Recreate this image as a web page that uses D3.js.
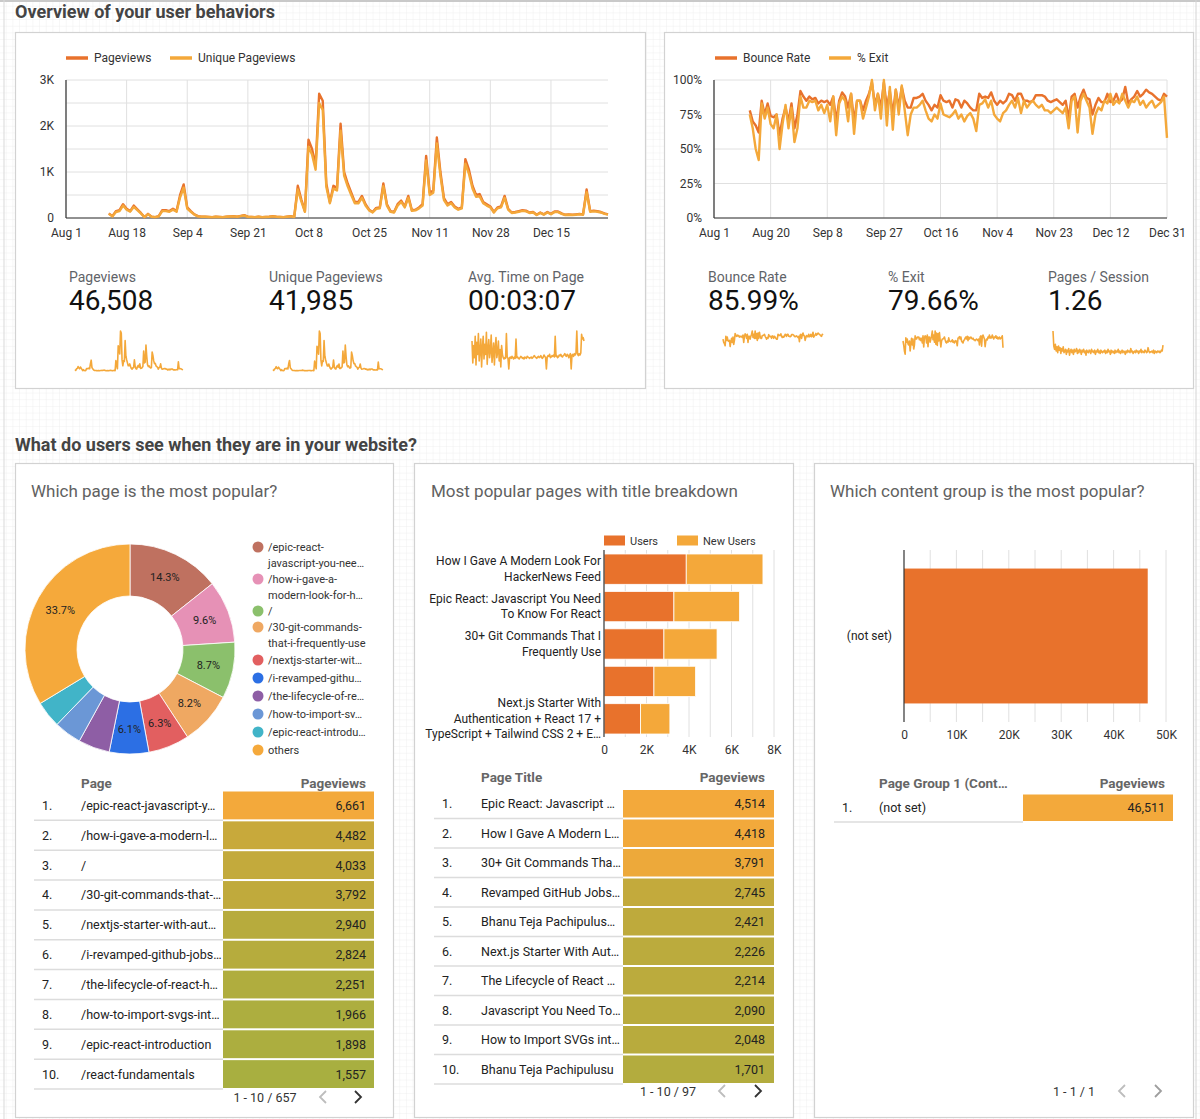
<!DOCTYPE html>
<html><head><meta charset="utf-8">
<script src="https://cdn.jsdelivr.net/npm/d3@7"></script>
<style>
html,body{margin:0;padding:0;background:#fff;}
svg{display:block;font-family:Roboto,"Noto Sans",sans-serif;}
</style></head><body>
<svg id="c" width="1200" height="1119"></svg>
<script>
// ---------------- DATA ----------------
const seriesStart = "2020-08-13";
const axisStart = "2020-08-01";
const axisEnd = "2020-12-31";

const pageviews = [100,40,150,170,300,200,150,270,190,110,20,90,30,20,40,170,170,150,200,150,500,730,230,150,80,40,
30,30,25,20,30,25,20,30,35,40,30,45,60,30,25,20,30,20,25,30,40,30,25,20,30,40,25,
700,400,150,1700,1500,1150,2700,2550,750,350,
700,650,2050,1000,750,550,350,350,480,300,
180,130,220,230,750,300,150,130,300,380,
250,480,170,180,230,300,1350,550,600,1750,
1000,430,300,350,250,200,230,1280,1050,700,
500,520,350,300,250,130,230,250,480,200,
120,130,150,170,160,120,130,70,120,80,
130,90,140,140,100,70,80,70,80,90,
80,620,150,160,150,130,100,80];

const uniquePageviews = [90,35,130,150,270,180,140,240,170,100,18,80,28,18,36,150,150,135,180,135,450,660,205,135,72,36,
27,27,22,18,27,22,18,27,32,36,27,40,54,27,22,18,27,18,22,27,36,27,22,18,27,36,22,
620,360,135,1550,1380,1050,2500,2350,680,320,
640,600,1900,920,690,500,320,320,440,270,
165,120,200,210,690,270,135,120,270,350,
230,440,155,165,210,270,1250,500,550,1620,
920,390,270,320,230,180,210,1180,960,640,
460,470,320,270,230,120,210,230,440,180,
110,120,135,155,145,110,120,65,110,72,
120,82,128,128,90,65,72,65,72,82,
72,560,135,145,135,120,90,72];

const bounceRate = [78,70,67,62,85,75,83,74,73,75,
60,72,80,70,83,65,75,92,88,85,
88,86,87,83,85,84,85,82,88,70,
85,91,88,80,90,70,85,85,78,85,
90,98,82,90,80,98,80,92,75,93,
80,95,85,80,80,87,87,88,90,85,
82,78,82,80,89,85,84,85,80,86,
85,80,85,83,80,78,78,90,87,88,
87,91,85,82,85,83,85,90,89,85,
90,90,85,85,84,85,89,89,89,88,
85,84,85,86,84,82,85,72,88,90,
80,88,93,87,86,75,82,87,84,84,
90,84,85,90,84,86,95,83,86,88,
92,88,90,93,91,90,88,86,85,90,88];

const exitRate = [75,65,50,42,83,72,80,68,65,75,
50,68,82,65,80,55,65,88,80,80,
85,84,85,78,82,76,82,70,88,60,
83,88,85,70,90,61,85,85,72,80,
88,100,78,90,72,100,67,95,64,93,
75,96,78,60,75,80,80,82,85,78,
72,70,75,72,83,75,74,73,75,78,
72,75,70,74,76,72,63,82,83,86,
80,85,75,72,70,76,78,82,85,80,
87,76,85,80,83,85,82,80,82,78,
78,76,78,80,78,76,80,65,85,88,
62,85,90,85,80,61,75,80,78,85,
83,90,82,85,83,90,85,80,85,84,
88,82,85,80,83,85,80,82,84,88,58];

const avgTimeSec = [450,120,380,200,520,90,430,250,560,150,
300,480,60,350,520,180,400,250,580,100,
330,470,200,300,540,130,260,420,90,350,
500,200,280,450,150,320,60,380,250,200,
180,200,190,560,210,190,30,200,210,190,
220,200,180,210,190,480,200,210,190,180,
200,220,210,190,200,180,210,200,190,220,
210,200,190,200,210,190,200,220,230,210,
200,190,210,220,200,210,230,200,190,210,
240,220,200,30,210,230,220,250,200,210,
230,220,240,210,520,220,230,200,210,240,
230,250,220,210,230,240,260,230,220,250,
240,200,230,260,30,240,250,220,260,240,
270,600,250,230,260,240,270,550,480,500,450];

const pagesPerSession = [2.4,1.5,1.3,1.6,1.2,1.45,1.1,1.5,1.25,1.4,1.05,1.35,1.2,1.45,1.1,
1.2,1.3,1.0,1.25,1.15,1.35,0.95,1.2,1.3,1.1,
1.25,1.0,1.3,1.15,1.2,1.35,1.05,1.25,1.1,1.3,
1.2,1.0,1.25,1.15,1.3,1.1,1.2,0.95,1.25,1.15,
1.1,1.25,1.2,1.05,1.3,1.15,1.2,1.1,1.25,1.0,
1.2,1.15,1.3,1.1,1.2,1.05,1.25,1.15,1.1,1.2,
1.15,1.25,1.05,1.2,1.1,1.3,1.15,1.2,1.0,1.25,
1.1,1.2,1.15,1.05,1.25,1.1,1.2,1.15,1.3,1.1,
1.2,1.05,1.15,1.25,1.1,1.2,1.15,1.0,1.2,1.1,
1.25,1.15,1.2,1.1,1.35,1.15,1.2,1.05,1.15,1.2,
1.1,1.25,1.15,1.2,1.05,1.2,1.15,1.3,1.1,1.2,
1.15,1.1,1.25,1.2,1.1,1.15,1.4,1.2,1.1,1.15,
1.15,1.2,1.1,1.25,1.05,1.2,1.15,1.1,1.2,1.15,
1.2,1.1,1.15,1.25,1.2,1.55];

const kpiLeftLabels = ["Pageviews","Unique Pageviews","Avg. Time on Page"];
const kpiLeftValues = ["46,508","41,985","00:03:07"];
const kpiRightLabels = ["Bounce Rate","% Exit","Pages / Session"];
const kpiRightValues = ["85.99%","79.66%","1.26"];

const pieLabels = [["/epic-react-","javascript-you-nee…"],["/how-i-gave-a-","modern-look-for-h…"],["/"],
  ["/30-git-commands-","that-i-frequently-use"],["/nextjs-starter-wit…"],["/i-revamped-githu…"],
  ["/the-lifecycle-of-re…"],["/how-to-import-sv…"],["/epic-react-introdu…"],["others"]];
const pieValues = [6661,4482,4033,3792,2940,2824,2251,1966,1898,15661];
const pieColors = ["#bf7160","#e691b6","#8bc06c","#efa862","#e25f60","#2c6fe4","#8e5ea5","#6b97d6","#41b4c8","#f5a93b"];

const titleBarCats = [["How I Gave A Modern Look For","HackerNews Feed"],["Epic React: Javascript You Need","To Know For React"],
  ["30+ Git Commands That I","Frequently Use"],[],["Next.js Starter With","Authentication + React 17 +","TypeScript + Tailwind CSS 2 + E…"]];
const titleBarUsers = [3870,3290,2820,2350,1720];
const titleBarNewUsers = [3610,3090,2500,1960,1380];
const titleBarKeys = ["Users","New Users"];
const titleBarTicks = [0,2000,4000,6000,8000];

const groupCats = ["(not set)"];
const groupPageviews = [46511];
const groupTicks = [0,10000,20000,30000,40000,50000];

const pageRows = ["/epic-react-javascript-y…","/how-i-gave-a-modern-l…","/","/30-git-commands-that-…","/nextjs-starter-with-aut…",
  "/i-revamped-github-jobs…","/the-lifecycle-of-react-h…","/how-to-import-svgs-int…","/epic-react-introduction","/react-fundamentals"];
const pageRowValues = [6661,4482,4033,3792,2940,2824,2251,1966,1898,1557];
const titleRows = ["Epic React: Javascript …","How I Gave A Modern L…","30+ Git Commands Tha…","Revamped GitHub Jobs…",
  "Bhanu Teja Pachipulus…","Next.js Starter With Aut…","The Lifecycle of React …","Javascript You Need To…","How to Import SVGs int…","Bhanu Teja Pachipulusu"];
const titleRowValues = [4514,4418,3791,2745,2421,2226,2214,2090,2048,1701];
const groupRows = ["(not set)"];
const groupRowValues = [46511];

// ---------------- DRAW ----------------
const svg = d3.select("#c");
const parse = d3.timeParse("%Y-%m-%d");
const t0 = parse(seriesStart);
const days = pageviews.map((_, i) => d3.timeDay.offset(t0, i));
const dA = parse(axisStart), dB = parse(axisEnd);
const DARK = "#e8722c", LIGHT = "#f4a83a";

// background grid
const defs = svg.append("defs");
const gs = 6.67;
const pat = defs.append("pattern").attr("id","grid").attr("width",gs).attr("height",gs).attr("patternUnits","userSpaceOnUse");
pat.append("rect").attr("width",gs).attr("height",gs).attr("fill","#fff");
pat.append("path").attr("d",`M${gs} 0V${gs}M0 ${gs}H${gs}`).attr("stroke","#ececec").attr("stroke-width",0.8).attr("fill","none");
svg.append("rect").attr("width",1200).attr("height",1119).attr("fill","url(#grid)");
svg.append("rect").attr("x",0).attr("y",0).attr("width",1200).attr("height",2).attr("fill","#c9c9c9");
svg.append("line").attr("x1",4).attr("x2",4).attr("y1",0).attr("y2",1119).attr("stroke","#d9d9d9");
svg.append("line").attr("x1",1196).attr("x2",1196).attr("y1",0).attr("y2",1119).attr("stroke","#d4d4d4");

// panels
const panels = [[15,32,630,356],[664,32,529,356],[15,463,378,654],[414,463,379,654],[814,463,379,654]];
svg.selectAll("rect.panel").data(panels).join("rect").attr("class","panel")
  .attr("x",d=>d[0]+0.5).attr("y",d=>d[1]+0.5).attr("width",d=>d[2]).attr("height",d=>d[3])
  .attr("fill","#fff").attr("stroke","#d2d2d2").attr("stroke-width",1.2);

// section titles
svg.append("text").attr("x",15).attr("y",17.5).attr("font-size",18).attr("font-weight","bold").attr("fill","#444").text("Overview of your user behaviors");
svg.append("text").attr("x",15).attr("y",451).attr("font-size",18).attr("font-weight","bold").attr("fill","#444").text("What do users see when they are in your website?");

// panel titles
[[31,"Which page is the most popular?"],[431,"Most popular pages with title breakdown"],[830,"Which content group is the most popular?"]]
 .forEach(([x,t])=>svg.append("text").attr("x",x).attr("y",497).attr("font-size",17).attr("fill","#616161").text(t));

// ---- time series charts ----
function timeChart(o){
  const g = svg.append("g");
  const x = d3.scaleTime().domain([dA,dB]).range([o.x0,o.x1]);
  const y = d3.scaleLinear().domain([0,o.yMax]).range([o.y0,o.y1]);
  g.selectAll("line.hg").data(d3.range(0,o.yMax+1e-9,o.gridStep)).join("line")
    .attr("x1",o.x0).attr("x2",o.x1).attr("y1",d=>y(d)).attr("y2",d=>y(d)).attr("stroke","#e0e0e0");
  const tickDates = d3.range(0,153,o.tickStep).map(k=>d3.timeDay.offset(dA,k));
  g.selectAll("line.vg").data(tickDates).join("line")
    .attr("x1",d=>x(d)).attr("x2",d=>x(d)).attr("y1",o.y1).attr("y2",o.y0).attr("stroke","#e0e0e0");
  const ax = g.append("g").attr("transform",`translate(0,${o.y0})`)
    .call(d3.axisBottom(x).tickValues(tickDates).tickFormat(d3.timeFormat("%b %-d")).tickSize(0).tickPadding(10));
  ax.select(".domain").remove();
  ax.selectAll("text").attr("font-size",12).attr("fill","#333").attr("font-family","Roboto");
  const ay = g.append("g").attr("transform",`translate(${o.x0},0)`)
    .call(d3.axisLeft(y).tickValues(o.yLabels).tickFormat(o.fmt).tickSize(0).tickPadding(12));
  ay.select(".domain").remove();
  ay.selectAll("text").attr("font-size",12).attr("fill","#333").attr("font-family","Roboto");
  g.append("line").attr("x1",o.x0).attr("x2",o.x0).attr("y1",o.y1).attr("y2",o.y0).attr("stroke","#333").attr("stroke-width",1.2);
  g.append("line").attr("x1",o.x0).attr("x2",o.x1).attr("y1",o.y0).attr("y2",o.y0).attr("stroke","#333").attr("stroke-width",1.2);
  o.series.forEach((s,i)=>{
    g.append("path").datum(s).attr("fill","none").attr("stroke",o.colors[i]).attr("stroke-width",2.4).attr("stroke-linejoin","round")
      .attr("d",d3.line().x((d,j)=>x(days[j])).y(d=>y(d)));
  });
  o.legend.forEach((l,i)=>{
    g.append("line").attr("x1",l[0]).attr("x2",l[0]+22).attr("y1",58).attr("y2",58).attr("stroke",o.colors[i]).attr("stroke-width",3.5);
    g.append("text").attr("x",l[0]+28).attr("y",62).attr("font-size",12).attr("fill","#333").text(l[1]);
  });
}
timeChart({x0:66,x1:608,y0:218,y1:80,yMax:3000,gridStep:500,yLabels:[0,1000,2000,3000],
  fmt:d=>d===0?"0":(d/1000)+"K",tickStep:17,series:[pageviews,uniquePageviews],colors:[DARK,LIGHT],
  legend:[[66,"Pageviews"],[170,"Unique Pageviews"]]});
timeChart({x0:714,x1:1167,y0:218,y1:80,yMax:100,gridStep:25,yLabels:[0,25,50,75,100],
  fmt:d=>d+"%",tickStep:19,series:[bounceRate,exitRate],colors:[DARK,LIGHT],
  legend:[[715,"Bounce Rate"],[829,"% Exit"]]});

// ---- KPIs ----
function kpi(x,label,value){
  svg.append("text").attr("x",x).attr("y",282).attr("font-size",14).attr("fill","#5f6368").text(label);
  svg.append("text").attr("x",x).attr("y",310).attr("font-size",28).attr("fill","#111").text(value);
}
[69,269,468].forEach((x,i)=>kpi(x,kpiLeftLabels[i],kpiLeftValues[i]));
[708,888,1048].forEach((x,i)=>kpi(x,kpiRightLabels[i],kpiRightValues[i]));
function spark(data,x0,x1){
  const x = d3.scaleTime().domain([days[0],days[days.length-1]]).range([x0,x1]);
  const y = d3.scaleLinear().domain([0,d3.max(data)]).range([371,331]);
  svg.append("path").datum(data).attr("fill","none").attr("stroke",LIGHT).attr("stroke-width",1.6).attr("stroke-linejoin","round")
    .attr("d",d3.line().x((d,j)=>x(days[j])).y(d=>y(d)));
}
spark(pageviews,75,183); spark(uniquePageviews,273,383); spark(avgTimeSec,472,584);
spark(bounceRate,723,823); spark(exitRate,903,1003); spark(pagesPerSession,1053,1163);

// ---- Donut ----
const total = d3.sum(pieValues);
const pie = d3.pie().sort(null).value(d=>d)(pieValues);
const arc = d3.arc().innerRadius(53).outerRadius(105);
const labArc = d3.arc().innerRadius(80).outerRadius(80);
const pg = svg.append("g").attr("transform","translate(130,649)");
pg.selectAll("path").data(pie).join("path").attr("d",arc).attr("fill",(d,i)=>pieColors[i]).attr("stroke","#fff").attr("stroke-width",0.8);
pg.selectAll("text").data(pie.filter(d=>d.value/total>=0.05)).join("text")
  .attr("transform",d=>`translate(${labArc.centroid(d)})`).attr("text-anchor","middle").attr("dy","0.35em")
  .attr("font-size",11).attr("fill","#222").text(d=>d3.format(".1%")(d.value/total));
const legY = [547,579,611,627,660,678,696,714,732,750];
pieLabels.forEach((lines,i)=>{
  svg.append("circle").attr("cx",258).attr("cy",legY[i]).attr("r",5.5).attr("fill",pieColors[i]);
  lines.forEach((t,k)=>svg.append("text").attr("x",268).attr("y",legY[i]+4+k*15.5).attr("font-size",11).attr("fill","#333").text(t));
});

// ---- Stacked bar (titles) ----
{
  const x = d3.scaleLinear().domain([0,8000]).range([604,774]);
  const y = d3.scaleBand().domain(d3.range(titleBarUsers.length)).range([551,737]).paddingInner(0.19).paddingOuter(0.08);
  const g = svg.append("g");
  g.selectAll("line.g").data(d3.range(1000,8001,1000)).join("line")
    .attr("x1",d=>x(d)).attr("x2",d=>x(d)).attr("y1",550).attr("y2",737).attr("stroke","#e0e0e0");
  const rows = titleBarUsers.map((u,i)=>({"Users":u,"New Users":titleBarNewUsers[i],i}));
  const st = d3.stack().keys(titleBarKeys)(rows);
  const cols = [DARK,LIGHT];
  st.forEach((s,k)=>{
    g.selectAll(null).data(s).join("rect").attr("x",d=>x(d[0])).attr("width",d=>x(d[1])-x(d[0]))
      .attr("y",d=>y(d.data.i)).attr("height",y.bandwidth()).attr("fill",cols[k]).attr("stroke","#fff").attr("stroke-width",0.8);
  });
  g.append("line").attr("x1",604).attr("x2",604).attr("y1",550).attr("y2",737).attr("stroke","#333").attr("stroke-width",1.2);
  const ax = g.append("g").attr("transform","translate(0,737)")
    .call(d3.axisBottom(x).tickValues(titleBarTicks).tickFormat(d=>d===0?"0":(d/1000)+"K").tickSize(0).tickPadding(8));
  ax.select(".domain").remove();
  ax.selectAll("text").attr("font-size",12).attr("fill","#333").attr("font-family","Roboto");
  titleBarCats.forEach((lines,i)=>{
    const c = y(i)+y.bandwidth()/2, n = lines.length;
    lines.forEach((t,k)=>g.append("text").attr("x",601).attr("y",c+4+(k-(n-1)/2)*15.5).attr("text-anchor","end")
      .attr("font-size",12).attr("fill","#222").text(t));
  });
  [[604,"Users"],[677,"New Users"]].forEach(([lx,t],k)=>{
    g.append("rect").attr("x",lx).attr("y",535.5).attr("width",21).attr("height",10).attr("fill",cols[k]);
    g.append("text").attr("x",lx+26).attr("y",545).attr("font-size",11).attr("fill","#333").text(t);
  });
}

// ---- Content group bar ----
{
  const x = d3.scaleLinear().domain([0,50000]).range([904,1166]);
  const y = d3.scaleBand().domain(groupCats).range([550,722]).paddingInner(0.2).paddingOuter(0.11);
  const g = svg.append("g");
  g.selectAll("line.g").data(d3.range(5000,50001,5000)).join("line")
    .attr("x1",d=>x(d)).attr("x2",d=>x(d)).attr("y1",550).attr("y2",722).attr("stroke","#e0e0e0");
  g.selectAll("rect").data(groupCats).join("rect").attr("x",x(0)).attr("y",d=>y(d))
    .attr("width",(d,i)=>x(groupPageviews[i])-x(0)).attr("height",y.bandwidth()).attr("fill",DARK);
  g.append("line").attr("x1",904).attr("x2",904).attr("y1",550).attr("y2",722).attr("stroke","#333").attr("stroke-width",1.2);
  const ax = g.append("g").attr("transform","translate(0,722)")
    .call(d3.axisBottom(x).tickValues(groupTicks).tickFormat(d=>d===0?"0":(d/1000)+"K").tickSize(0).tickPadding(8));
  ax.select(".domain").remove();
  ax.selectAll("text").attr("font-size",12).attr("fill","#333").attr("font-family","Roboto");
  g.selectAll("text.c").data(groupCats).join("text").attr("x",892).attr("y",d=>y(d)+y.bandwidth()/2+4)
    .attr("text-anchor","end").attr("font-size",12).attr("fill","#222").text(d=>d);
}

// ---- Tables ----
function chevron(x,y,dir,col){
  svg.append("path").attr("d",dir<0?`M${x+3},${y-6}L${x-3},${y}L${x+3},${y+6}`:`M${x-3},${y-6}L${x+3},${y}L${x-3},${y+6}`)
    .attr("fill","none").attr("stroke",col).attr("stroke-width",1.8);
}
function table(o){
  const max = d3.max(o.values);
  const color = d3.scaleLinear().domain([0.2,0.45,0.68,0.8,1].map(f=>f*max))
    .range(["#a6b040","#b8ab3d","#c8a93b","#eca93a","#f3a93b"]).clamp(true);
  svg.append("text").attr("x",o.textX).attr("y",o.headY).attr("font-size",13.5).attr("font-weight","bold").attr("fill","#666").text(o.head[0]);
  svg.append("text").attr("x",o.valX).attr("y",o.headY).attr("text-anchor","end").attr("font-size",13.5).attr("font-weight","bold").attr("fill","#666").text(o.head[1]);
  const yb = d3.scaleBand().domain(d3.range(o.labels.length)).range([o.top,o.top+o.rowH*o.labels.length]);
  o.labels.forEach((t,i)=>{
    const y0 = yb(i), c = y0+o.rowH/2;
    svg.append("rect").attr("x",o.c0).attr("y",y0+1).attr("width",o.c1-o.c0).attr("height",o.rowH-2).attr("fill",color(o.values[i]));
    svg.append("line").attr("x1",o.l0).attr("x2",o.c0).attr("y1",y0+o.rowH).attr("y2",y0+o.rowH).attr("stroke","#dcdcdc").attr("stroke-width",1.5);
    svg.append("text").attr("x",o.rankX).attr("y",c+4.5).attr("font-size",12.5).attr("fill","#222").text((i+1)+".");
    svg.append("text").attr("x",o.textX).attr("y",c+4.5).attr("font-size",12.5).attr("fill","#222").text(t);
    svg.append("text").attr("x",o.valX).attr("y",c+4.5).attr("text-anchor","end").attr("font-size",12.5).attr("fill","#222").text(d3.format(",")(o.values[i]));
  });
  svg.append("text").attr("x",o.footX).attr("y",o.footY+4.5).attr("text-anchor","middle").attr("font-size",12.5).attr("fill","#333").text(o.foot);
  chevron(o.prevX,o.footY,-1,"#bdbdbd");
  chevron(o.nextX,o.footY,1,o.nextCol);
}
table({head:["Page","Pageviews"],labels:pageRows,values:pageRowValues,headY:788,top:790.5,rowH:29.85,
  l0:34,c0:223,c1:374,rankX:42,textX:81,valX:366,foot:"1 - 10 / 657",footX:265,footY:1097,prevX:323,nextX:358,nextCol:"#333"});
table({head:["Page Title","Pageviews"],labels:titleRows,values:titleRowValues,headY:782,top:789,rowH:29.5,
  l0:434,c0:623,c1:774,rankX:442,textX:481,valX:765,foot:"1 - 10 / 97",footX:668,footY:1091,prevX:722,nextX:758,nextCol:"#333"});
table({head:["Page Group 1 (Cont…","Pageviews"],labels:groupRows,values:groupRowValues,headY:788,top:793.5,rowH:28.5,
  l0:834,c0:1023,c1:1173,rankX:842,textX:879,valX:1165,foot:"1 - 1 / 1",footX:1074,footY:1091,prevX:1122,nextX:1158,nextCol:"#9e9e9e"});
</script>
</body></html>
